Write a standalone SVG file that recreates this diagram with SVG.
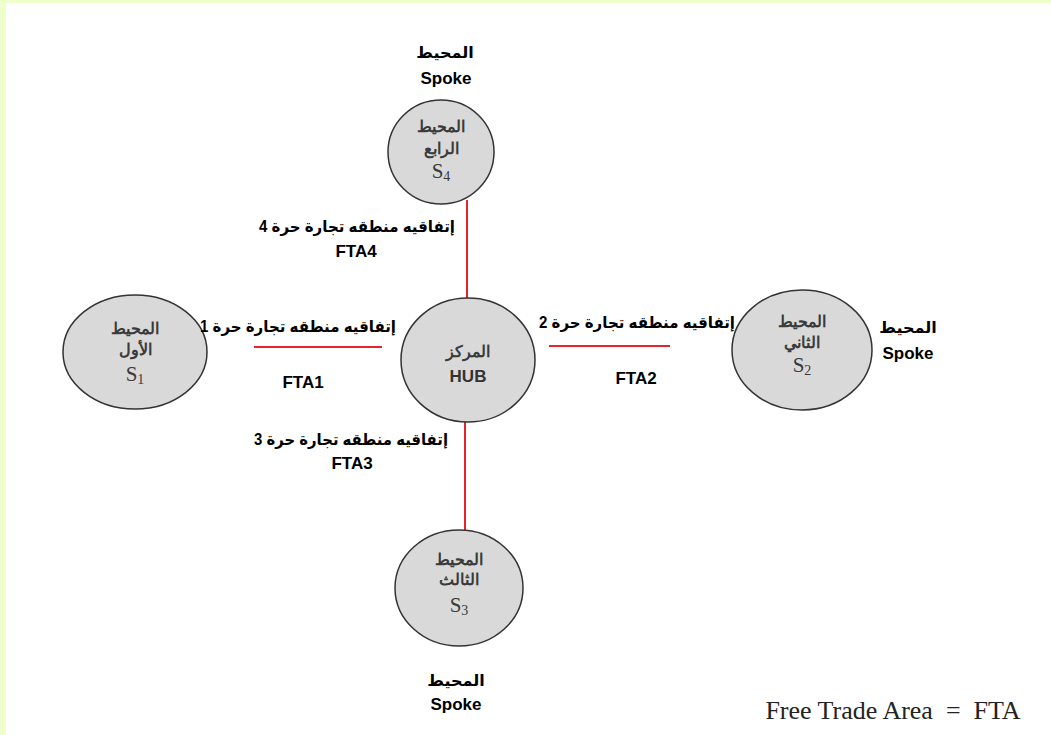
<svg xmlns="http://www.w3.org/2000/svg" width="1051" height="735" viewBox="0 0 1051 735">
<style>
.node{fill:#d9d9d9;stroke:#333;stroke-width:1.5}
.edge{stroke:#e8232d;stroke-width:2;fill:none}
.lbl{font-family:"Liberation Sans","DejaVu Sans",sans-serif;font-weight:bold;font-size:17px;fill:#000;text-anchor:middle}
.ar{font-family:"Liberation Sans","DejaVu Sans",sans-serif;font-weight:bold;font-size:16px;fill:#000;text-anchor:middle}
.in{font-family:"Liberation Serif","DejaVu Serif",serif;font-weight:bold;font-size:16px;fill:#3a3a3a;text-anchor:middle}
.s{font-family:"Liberation Serif","DejaVu Serif",serif;font-size:21px;fill:#3a3a3a;text-anchor:middle}
.hub{font-family:"Liberation Sans","DejaVu Sans",sans-serif;font-weight:bold;font-size:17px;fill:#333;text-anchor:middle}
</style>
<rect x="0" y="0" width="1051" height="735" fill="#eeffcc"/>
<rect x="6" y="3" width="1045" height="732" fill="#ffffff"/>
<g id="connectors">
<line class="edge" x1="467" y1="200" x2="467" y2="298"/>
<line class="edge" x1="254" y1="347" x2="382" y2="347"/>
<line class="edge" x1="549" y1="346" x2="670" y2="346"/>
<line class="edge" x1="465" y1="422" x2="465" y2="530"/>
</g>
<g id="hub">
<ellipse class="node" cx="468" cy="360" rx="67" ry="62"/>
<text class="in" x="468" y="357">المركز</text>
<text class="hub" x="468" y="382">HUB</text>
</g>
<g id="s4">
<ellipse class="node" cx="441" cy="152" rx="53" ry="52"/>
<text class="in" x="441" y="132">المحيط</text>
<text class="in" x="441" y="154">الرابع</text>
<text class="s" x="441" y="178">S<tspan font-size="14" dy="3">4</tspan></text>
</g>
<g id="s1">
<ellipse class="node" cx="135" cy="352" rx="72" ry="57"/>
<text class="in" x="135" y="334">المحيط</text>
<text class="in" x="135" y="355">الأول</text>
<text class="s" x="135" y="381">S<tspan font-size="14" dy="3">1</tspan></text>
</g>
<g id="s2">
<ellipse class="node" cx="802" cy="350" rx="70" ry="60"/>
<text class="in" x="802" y="327">المحيط</text>
<text class="in" x="802" y="348">الثاني</text>
<text class="s" x="802" y="372">S<tspan font-size="14" dy="3">2</tspan></text>
</g>
<g id="s3">
<ellipse class="node" cx="459" cy="588" rx="64" ry="58"/>
<text class="in" x="459" y="565">المحيط</text>
<text class="in" x="459" y="585">الثالث</text>
<text class="s" x="459" y="612">S<tspan font-size="14" dy="3">3</tspan></text>
</g>
<g id="labels">
<text class="ar" x="445" y="58">المحيط</text>
<text class="lbl" x="446" y="84">Spoke</text>
<text class="ar" x="357" y="232" textLength="196" lengthAdjust="spacingAndGlyphs">إتفاقيه منطقه تجارة حرة 4</text>
<text class="lbl" x="356" y="257">FTA4</text>
<text class="ar" x="298" y="332" textLength="196" lengthAdjust="spacingAndGlyphs">إتفاقيه منطقه تجارة حرة 1</text>
<text class="lbl" x="303" y="388">FTA1</text>
<text class="ar" x="637" y="328" textLength="196" lengthAdjust="spacingAndGlyphs">إتفاقيه منطقه تجارة حرة 2</text>
<text class="lbl" x="636" y="384">FTA2</text>
<text class="ar" x="908" y="333">المحيط</text>
<text class="lbl" x="908" y="359">Spoke</text>
<text class="ar" x="351" y="445" textLength="194" lengthAdjust="spacingAndGlyphs">إتفاقيه منطقه تجارة حرة 3</text>
<text class="lbl" x="352" y="469">FTA3</text>
<text class="ar" x="456" y="686">المحيط</text>
<text class="lbl" x="456" y="710">Spoke</text>
<text x="893" y="719" font-family="Liberation Serif,serif" font-size="26" fill="#222" text-anchor="middle" xml:space="preserve">Free Trade Area  =  FTA</text>
</g>
</svg>
